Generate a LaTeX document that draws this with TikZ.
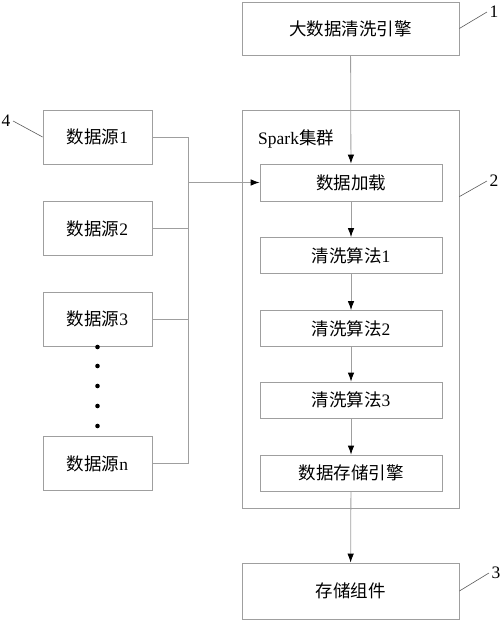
\documentclass[tikz,border=0pt]{standalone}
\usepackage{fontspec}
\setmainfont{Liberation Serif}
\newfontfamily\cjk{Noto Sans CJK SC}
\usepackage{tikz}
\usetikzlibrary{arrows.meta}
\newcommand{\zh}[1]{{\cjk #1}}

\begin{document}
\begin{tikzpicture}[x = 1pt, y = -1pt,
        box/.style = {draw = gray!75, line width = 0.8pt, inner sep = 0pt, font = \fontsize{17.5}{20}\selectfont},
        flow/.style = {draw = gray!75, line width = 0.8pt},
        arrowed/.style = {flow, -{Latex[length = 9pt, width = 6.5pt, color = black, fill = black]}},
        lead/.style = {draw = black!65, line width = 0.6pt},
        tag/.style = {font = \fontsize{17.5}{20}\selectfont, inner sep = 2.5pt}]
        \useasboundingbox (0,0) rectangle (500,620);
        % right column
        \node (engine)[box, minimum width = 217pt, minimum height = 53pt] at (350.5,28.5) {\zh{大数据清洗引擎}};
        \node (spark)[box, minimum width = 217pt, minimum height = 398pt] at (350.5,309) {};
        \node (spark_title)[tag, anchor = west, inner sep = 0pt] at (258,139) {Spark\zh{集群}};
        \node (load)[box, minimum width = 182pt, minimum height = 37pt] at (351,182.5) {\zh{数据加载}};
        \node (algo_1)[box, minimum width = 182pt, minimum height = 36pt] at (351,255.5) {\zh{清洗算法}1};
        \node (algo_2)[box, minimum width = 182pt, minimum height = 36pt] at (351,328.5) {\zh{清洗算法}2};
        \node (algo_3)[box, minimum width = 182pt, minimum height = 36pt] at (351,400) {\zh{清洗算法}3};
        \node (store_engine)[box, minimum width = 182pt, minimum height = 36pt] at (351,473) {\zh{数据存储引擎}};
        \node (storage)[box, minimum width = 217pt, minimum height = 56pt] at (350.5,591) {\zh{存储组件}};
        % data sources
        \node (src_1)[box, minimum width = 109pt, minimum height = 54pt] at (97.5,137) {\zh{数据源}1};
        \node (src_2)[box, minimum width = 109pt, minimum height = 54pt] at (97.5,228.5) {\zh{数据源}2};
        \node (src_3)[box, minimum width = 109pt, minimum height = 54pt] at (97.5,319) {\zh{数据源}3};
        \node (src_n)[box, minimum width = 109pt, minimum height = 54pt] at (97.5,463.5) {\zh{数据源}n};
        \foreach \y in {347,366,386,406,426}
            \fill (97.5,\y) circle (2.3pt);
        % reference numbers
        \node (label_1)[tag] at (494,12) {1};
        \node (label_2)[tag] at (494,181) {2};
        \node (label_3)[tag] at (496,573) {3};
        \node (label_4)[tag] at (6,121) {4};
        % connectors
        \coordinate (bus_top) at (188,137);
        \coordinate (bus_bot) at (188,463.5);
        \draw[flow] (src_1.east) -- (bus_top) -- (bus_bot) -- (src_n.east);
        \draw[flow] (src_2.east) -- (src_2.east -| bus_top);
        \draw[flow] (src_3.east) -- (src_3.east -| bus_top);
        \draw[arrowed] (load.west -| bus_top) -- (load.west);
        \path(engine) edge[arrowed] (load);
        \path(load) edge[arrowed] (algo_1);
        \path(algo_1) edge[arrowed] (algo_2);
        \path(algo_2) edge[arrowed] (algo_3);
        \path(algo_3) edge[arrowed] (store_engine);
        \path(store_engine) edge[arrowed] (storage);
        \draw[lead] (engine.east) -- (label_1.west);
        \draw[lead] ([yshift = -87pt]spark.north east) -- (label_2.west);
        \draw[lead] (storage.east) -- (label_3.west);
        \draw[lead] (label_4.east) -- (src_1.west);
    \end{tikzpicture}
\end{document}
